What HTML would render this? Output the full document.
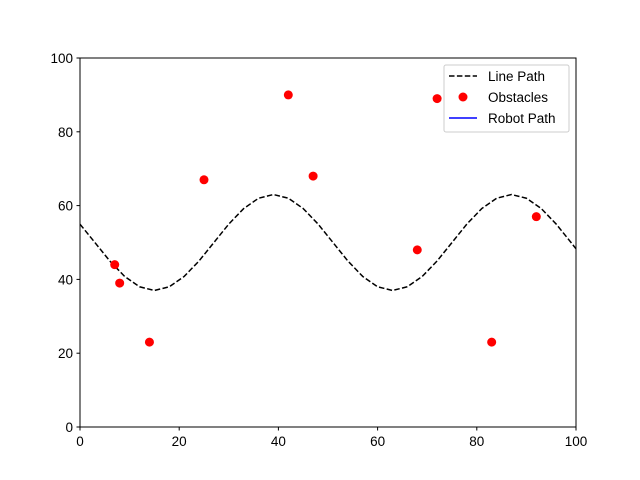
<!DOCTYPE html>
<html><head><meta charset="utf-8"><style>body{margin:0;background:#fff}svg{display:block;font-family:"Liberation Sans","DejaVu Sans",sans-serif}</style></head>
<body>
<svg id="chart" width="640" height="480"></svg>
<script>
const lineX=[0,3,6,9,12,15,18,21,24,27,30,33,36,39,42,45,48,51,54,57,60,63,66,69,72,75,78,81,84,87,90,93,96,99,100];
const lineY=[54.97,50,45,40.8,38,37,38,40.8,45,50,55,59.2,62,63,62,59.2,55,50,45,40.8,38,37,38,40.8,45,50,55,59.2,62,63,62,59.2,55,50,48.3];
const obsX=[7,8,14,25,42,47,68,72,83,92];
const obsY=[44,39,23,67,90,68,48,89,23,57];
const xTicks=[0,20,40,60,80,100];
const yTicks=[0,20,40,60,80,100];
const L=80,R=576,T=58,B=427;
const sx=v=>L+(v/100)*(R-L), sy=v=>B-(v/100)*(B-T);
const svg=document.getElementById('chart');
const NS='http://www.w3.org/2000/svg';
function mk(t,a,p){const e=document.createElementNS(NS,t);for(const k in a)e.setAttribute(k,a[k]);(p||svg).appendChild(e);return e;}
const clip=mk('clipPath',{id:'c'});mk('rect',{x:L,y:T,width:R-L,height:B-T},clip);
let pl=mk('polyline',{points:lineX.map((x,i)=>sx(x)+','+sy(lineY[i])).join(' '),fill:'none',stroke:'#000','stroke-width':1.5,'stroke-dasharray':'5.5,2.4','clip-path':'url(#c)'});


obsX.forEach((x,i)=>{const c=mk('circle',{cx:sx(x),cy:sy(obsY[i]),r:4.5,fill:'#ff0000'});

});
const fr=mk('rect',{x:L,y:T,width:R-L,height:B-T,fill:'none',stroke:'#000','stroke-width':1});


xTicks.forEach(v=>{mk('line',{x1:sx(v),x2:sx(v),y1:B,y2:B+3.5,stroke:'#000'});
const t=mk('text',{x:sx(v),y:B+19,'font-size':13.5,'text-anchor':'middle'});t.textContent=v;

});
yTicks.forEach(v=>{mk('line',{x1:L-3.5,x2:L,y1:sy(v),y2:sy(v),stroke:'#000'});
const t=mk('text',{x:L-7,y:sy(v)+5,'font-size':13.5,'text-anchor':'end'});t.textContent=v;

});
const lg=mk('g',{});


mk('rect',{x:444,y:65,width:125,height:67,rx:2,fill:'#fff',stroke:'#ccc'},lg);
mk('line',{x1:449,x2:477,y1:76,y2:76,stroke:'#000','stroke-width':1.5,'stroke-dasharray':'5.5,2.4'},lg);
mk('circle',{cx:463,cy:97,r:4.5,fill:'#ff0000'},lg);
mk('line',{x1:449,x2:477,y1:118,y2:118,stroke:'#0000ff','stroke-width':1.5},lg);
[['Line Path',76],['Obstacles',97],['Robot Path',118]].forEach(([s,y])=>{const t=mk('text',{x:488,y:y+5,'font-size':13.5},lg);t.textContent=s;

});
</script>
</body></html>
